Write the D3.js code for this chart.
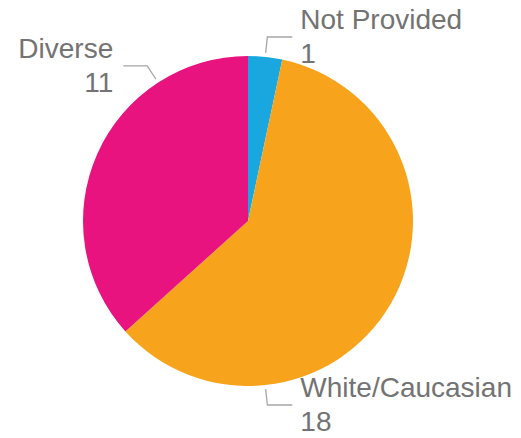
<!DOCTYPE html>
<html>
<head>
<meta charset="utf-8">
<script src="https://cdn.jsdelivr.net/npm/d3@7"></script>
<style>
  html, body { margin: 0; padding: 0; background: #fff; }
  svg text { font-family: "Liberation Sans", Arial, sans-serif; }
</style>
</head>
<body>
<svg id="chart" width="521" height="438"></svg>
<script>
// ====== Data ======
const categories = ["Not Provided", "White/Caucasian", "Diverse"];
const counts = [1, 18, 11];
const colors = ["#1aa7e0", "#f8a31c", "#e8137f"];

// Label anchor angles (deg, clockwise from 12 o'clock) - where the leader leaves the pie
const labelAngles = [6, 174, 327];

// ====== Layout ======
const width = 521, height = 438;
const cx = 248, cy = 221, radius = 165;

const svg = d3.select("#chart");
const g = svg.append("g").attr("transform", `translate(${cx},${cy})`);

const rows = categories.map((name, i) => ({ name, value: counts[i], color: colors[i], angle: labelAngles[i] }));

const pie = d3.pie().sort(null).value(d => d.value);
const arc = d3.arc().innerRadius(0).outerRadius(radius);

g.selectAll("path.slice")
  .data(pie(rows))
  .join("path")
  .attr("class", "slice")
  .attr("d", arc)
  .attr("fill", d => d.data.color);

// polar -> xy (angle clockwise from top)
function pt(deg, r) {
  const a = deg * Math.PI / 180;
  return [Math.sin(a) * r, -Math.cos(a) * r];
}

const labels = g.selectAll("g.label")
  .data(rows)
  .join("g")
  .attr("class", "label");

labels.each(function(d) {
  const sel = d3.select(this);
  const p0 = pt(d.angle, radius + 4);
  const p1 = pt(d.angle, radius + 20);
  const right = p1[0] >= 0;
  const p2 = [p1[0] + (right ? 25 : -24), p1[1]];

  sel.append("polyline")
    .attr("points", [p0, p1, p2].map(p => p.join(",")).join(" "))
    .attr("fill", "none")
    .attr("stroke", "#a6a6a6")
    .attr("stroke-width", 1.3);

  const tx = p2[0] + (right ? 8 : -10);
  const t = sel.append("text")
    .attr("text-anchor", right ? "start" : "end")
    .attr("font-size", 28)
    .attr("fill", "#737373");
  t.append("tspan").attr("x", tx).attr("y", p1[1] - 8).text(d.name);
  t.append("tspan").attr("x", tx).attr("y", p1[1] + 26).text(d.value);
});
</script>
</body>
</html>
